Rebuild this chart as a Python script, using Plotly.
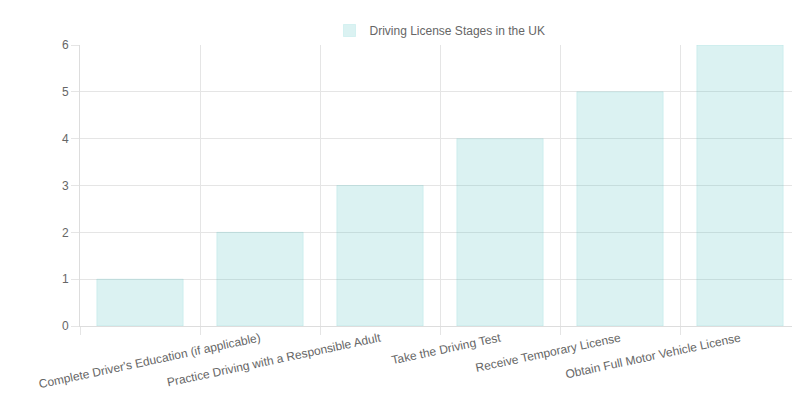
import plotly.graph_objects as go

categories = ["Obtain a Learner's Permit", "Complete Driver's Education (if applicable)",
              "Practice Driving with a Responsible Adult", "Take the Driving Test",
              "Receive Temporary License", "Obtain Full Motor Vehicle License"]
values = [1, 2, 3, 4, 5, 6]
series_name = "Driving License Stages in the UK"

xs = list(range(len(categories)))
fig = go.Figure(go.Bar(x=xs, y=values, name=series_name, width=0.72,
                       marker=dict(color="rgba(75,192,192,0.2)",
                                   line=dict(color="rgba(75,192,192,0.15)", width=1)),
                       showlegend=True))
fig.update_layout(
    width=800, height=400, margin=dict(l=72, r=8, t=24, b=82),
    paper_bgcolor="white", plot_bgcolor="white",
    font=dict(family="Liberation Sans, Arial, sans-serif", size=12, color="#666"),
    legend=dict(orientation="h", x=0.5, xanchor="center", y=1.0, yanchor="bottom",
                font=dict(size=12, color="#666")),
    bargap=0.28,
)
fig.update_xaxes(range=[-0.5, 5.5], tickvals=xs, ticktext=categories, tickangle=-12,
                 showgrid=False, showline=True, linecolor="#ddd", zeroline=False,
                 ticks="", minor=dict(tick0=0.5, dtick=1, showgrid=True, gridcolor="#e5e5e5",
                                      ticks="outside", ticklen=8, tickcolor="#e5e5e5"))
fig.update_yaxes(range=[0, 6], dtick=1, gridcolor="#e5e5e5", showline=True, linecolor="#ddd",
                 zeroline=False, ticks="outside", ticklen=8, tickcolor="#e5e5e5")
fig.write_html("out.html")
